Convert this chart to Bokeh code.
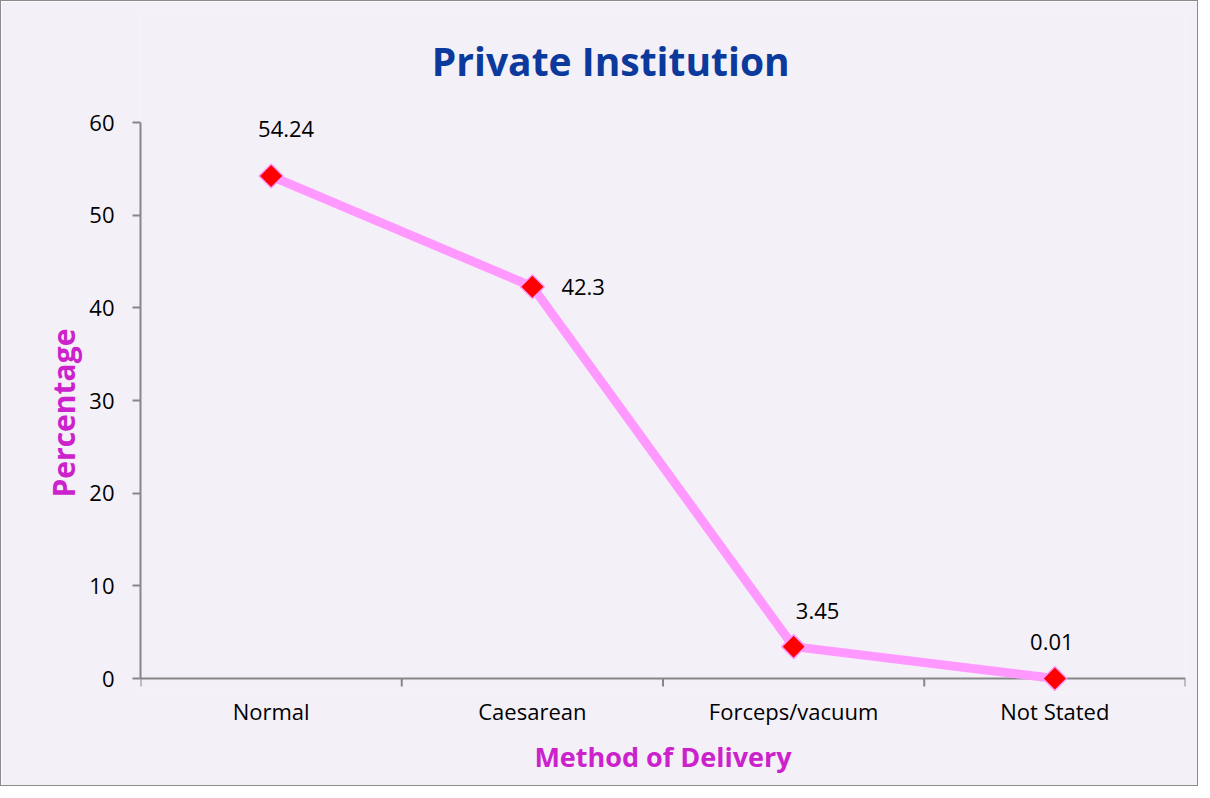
from bokeh.plotting import figure
from bokeh.models import ColumnDataSource, FixedTicker, Range1d, Label, Title, Span
from bokeh.core.properties import value
from bokeh.embed import file_html
from bokeh.resources import INLINE

title_text = "Private Institution"
x_title = "Method of Delivery"
y_title = "Percentage"
categories = ["Normal", "Caesarean", "Forceps/vacuum", "Not Stated"]
percentages = [54.24, 42.3, 3.45, 0.01]
value_labels = ["54.24", "42.3", "3.45", "0.01"]
y_ticks = [0, 10, 20, 30, 40, 50, 60]

# label placement offsets (pixels)
label_dx = [15, 29, 24, -3]
label_dy = [-47, 0, -36, -37]
label_align = ["center", "left", "center", "center"]

BG = "#f3f0f8"
FONT = "Open Sans"
MAGENTA = "#cc22cc"
AXIS_GREY = "#868686"
TICK_LEN = 0.86  # category tick length in y units (~8 px)

xpos = [i + 0.5 for i in range(len(categories))]
bounds_x = list(range(len(categories) + 1))
src = ColumnDataSource(dict(x=xpos, y=percentages, lab=value_labels,
                            dx=label_dx, dy=label_dy, al=label_align))

p = figure(width=1198, height=786, output_backend="svg", toolbar_location=None,
           x_range=Range1d(0, len(categories)), y_range=Range1d(-1.5, 72),
           min_border_left=139, min_border_right=14, min_border_top=10,
           min_border_bottom=95)
p.styles = {"border": "1px solid #8c8c8c"}
p.background_fill_color = BG
p.border_fill_color = BG
p.outline_line_color = None
p.grid.grid_line_color = None

# category axis line at y = 0 and boundary ticks
p.add_layout(Span(location=0, dimension="width", line_color=AXIS_GREY,
                  line_width=2, level="underlay"))
p.segment(x0=bounds_x, y0=[0] * len(bounds_x), x1=bounds_x,
          y1=[-TICK_LEN] * len(bounds_x), line_color=AXIS_GREY, line_width=2)

p.line("x", "y", source=src, line_color="#ff99ff", line_width=9, line_join="round")
p.scatter("x", "y", source=src, marker="square", size=17, angle=0.785398,
          fill_color="#ff0000", line_color="#ff99ff", line_width=1.5)
p.text("x", "y", text="lab", source=src, x_offset="dx", y_offset="dy",
       text_align="al", text_baseline="middle", text_font=value(FONT),
       text_font_size="22px", text_color="#000000")

p.add_layout(Label(x=1.8, y=66.73, text=title_text, text_align="center",
                   text_baseline="alphabetic", text_font=FONT,
                   text_font_style="bold", text_font_size="39px",
                   text_color="#0b3a9c"))

# x axis (labels only)
xa = p.xaxis[0]
xa.ticker = FixedTicker(ticks=xpos)
xa.major_label_overrides = {x: c for x, c in zip(xpos, categories)}
xa.axis_line_color = None
xa.major_tick_line_color = None
xa.minor_tick_line_color = None
xa.major_tick_out = 0
xa.major_tick_in = 0
xa.major_label_text_font = FONT
xa.major_label_text_font_size = "22px"
xa.major_label_text_color = "#000000"
xa.major_label_standoff = 3
xa.axis_label = x_title
xa.axis_label_text_font = FONT
xa.axis_label_text_font_style = "bold"
xa.axis_label_text_font_size = "27px"
xa.axis_label_text_color = MAGENTA
xa.axis_label_standoff = 9

# y axis
ya = p.yaxis[0]
ya.bounds = (0, 60)
ya.ticker = FixedTicker(ticks=y_ticks)
ya.minor_tick_line_color = None
ya.major_tick_out = 8
ya.major_tick_in = 0
ya.major_tick_line_color = AXIS_GREY
ya.major_tick_line_width = 2
ya.axis_line_color = AXIS_GREY
ya.axis_line_width = 2
ya.major_label_text_font = FONT
ya.major_label_text_font_size = "22px"
ya.major_label_text_color = "#000000"
ya.major_label_standoff = 18

ytitle = Title(text=y_title, align="left", offset=195, text_font=FONT,
               text_font_style="bold", text_font_size="30px",
               text_color=MAGENTA, standoff=6)
p.add_layout(ytitle, "left")

open("out.html", "w").write(file_html(p, INLINE))
